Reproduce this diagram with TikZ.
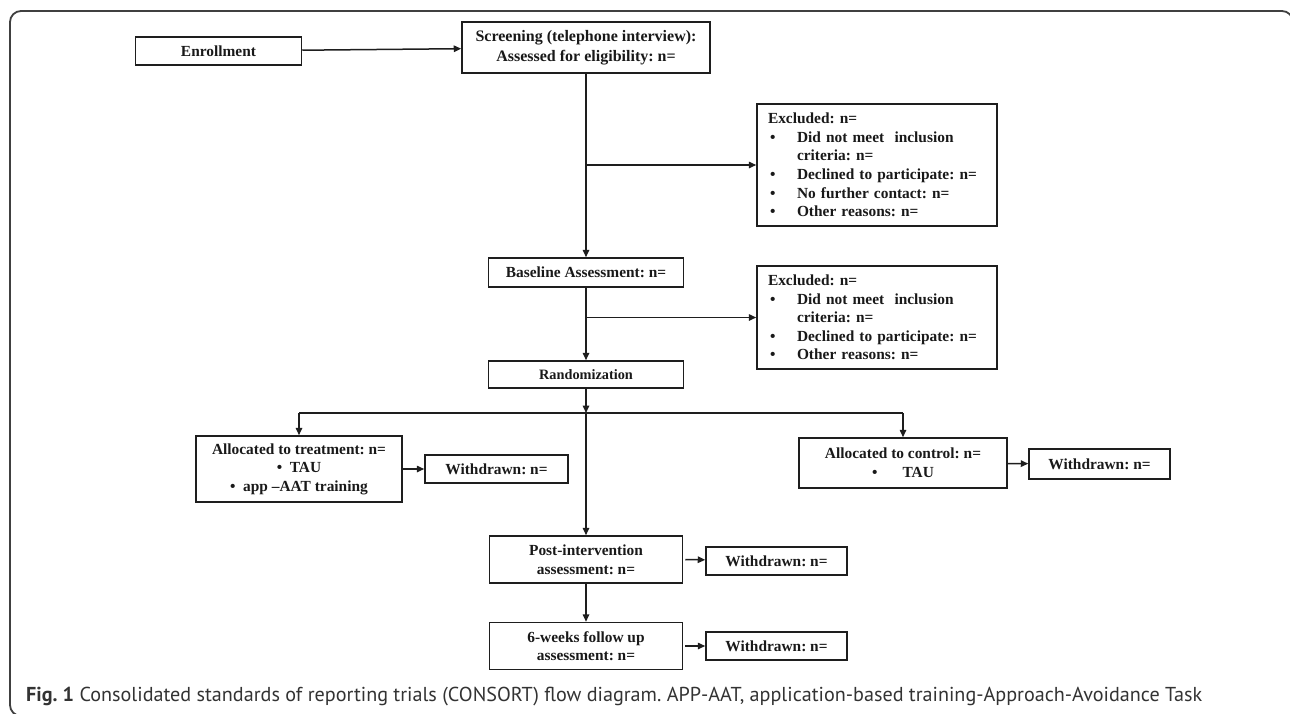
\documentclass[tikz,border=0pt]{standalone}
\usepackage{fontspec}
\setmainfont{Liberation Serif}
\newfontfamily\capfont{PT Sans}
\usetikzlibrary{arrows.meta}
\definecolor{lncol}{HTML}{1E1E1E}
\definecolor{captxt}{HTML}{333333}
\newcommand{\bul}{\makebox[29pt][l]{\hspace{2pt}\textbullet}}
\newcommand{\ind}{\hspace*{29pt}}
\frenchspacing
\begin{document}
\begin{tikzpicture}[x=1pt,y=-1pt,
  box/.style={draw=lncol, line width=1.5pt, inner sep=0pt, align=center,
    font=\fontsize{15.4}{18.6}\selectfont\bfseries, text=black!90},
  listbox/.style={box, align=left, inner xsep=11pt, text width=218pt},
  arr/.style={draw=lncol, line width=1.5pt, -{Triangle[length=7.5pt,width=6.5pt]}},
  conn/.style={draw=lncol, line width=1.5pt}]
\useasboundingbox (0,0) rectangle (1290,713);
\fill[white] (0,0) rectangle (1290,713);
% outer frame
\draw[lncol!85, line width=1.8pt, rounded corners=11pt] (200,716) -- (10,716) -- (10,11) -- (1293,11) -- (1293,730);

% nodes
\node[box, minimum width=166pt, minimum height=28pt] (enr) at (218.5,51) {Enrollment};
\node[box, minimum width=248pt, minimum height=51pt, font=\fontsize{16}{19.5}\selectfont\bfseries] (scr) at (586,47.5) {Screening (telephone interview):\\Assessed for eligibility: n=};
\node[listbox, minimum height=122pt] (ex1) at (877,165) {Excluded: n=\\
\bul Did not meet\ \ inclusion\\
\ind criteria: n=\\
\bul Declined to participate: n=\\
\bul No further contact: n=\\
\bul Other reasons: n=};
\node[box, minimum width=195pt, minimum height=29pt] (base) at (586,272.5) {Baseline Assessment: n=};
\node[listbox, minimum height=103pt] (ex2) at (877,317.5) {Excluded: n=\\
\bul Did not meet\ \ inclusion\\
\ind criteria: n=\\
\bul Declined to participate: n=\\
\bul Other reasons: n=};
\node[box, minimum width=195pt, minimum height=27pt, font=\fontsize{14.3}{17}\selectfont\bfseries] (rand) at (586,374.5) {Randomization};
\coordinate (j) at (586,413);
\node[box, minimum width=206pt, minimum height=66pt] (trt) at (299,469) {Allocated to treatment: n=\\ \textbullet\ \ TAU\\ \textbullet\ \ app --AAT training};
\node[box, minimum width=143pt, minimum height=28pt] (wt) at (496.5,469) {Withdrawn: n=};
\node[box, minimum width=208pt, minimum height=50pt] (ctl) at (903,463) {Allocated to control: n=\\ \textbullet\hspace{25pt}TAU};
\node[box, minimum width=141pt, minimum height=30pt] (wc) at (1099.5,464) {Withdrawn: n=};
\node[box, minimum width=193pt, minimum height=47pt] (post) at (586,559.5) {Post-intervention\\assessment: n=};
\node[box, minimum width=141pt, minimum height=28pt] (wp) at (776.5,561) {Withdrawn: n=};
\node[box, minimum width=193pt, minimum height=47pt] (fu) at (586,646) {6-weeks follow up\\assessment: n=};
\node[box, minimum width=141pt, minimum height=28pt] (wf) at (776.5,646) {Withdrawn: n=};

% connectors
\draw[arr] (enr) -- (scr);
\draw[arr] (scr) -- (base);
\draw[arr] (scr.south |- ex1.west) -- (ex1.west);
\draw[arr] (base) -- (rand);
\draw[arr] (base.south |- ex2.west) -- (ex2.west);
\draw[arr] (rand) -- (j);
\draw[conn] (trt.north |- j) -- (ctl.north |- j);
\draw[arr] (trt.north |- j) -- (trt.north);
\draw[arr] (ctl.north |- j) -- (ctl.north);
\draw[arr] (j) -- (post);
\draw[arr] (trt) -- (wt);
\draw[arr] (ctl) -- (wc);
\draw[arr] ([xshift=2pt]post.east) -- (wp);
\draw[arr] (post) -- (fu);
\draw[arr] ([xshift=2pt]fu.east) -- (wf);

% caption
\node[anchor=base west, inner sep=0pt, text=captxt] (cap) at (26,701) {\resizebox{1176pt}{!}{\capfont\fontsize{18}{20}\selectfont\textbf{Fig. 1} Consolidated standards of reporting trials (CONSORT) flow diagram. APP-AAT, application-based training-Approach-Avoidance Task}};
\end{tikzpicture}
\end{document}
